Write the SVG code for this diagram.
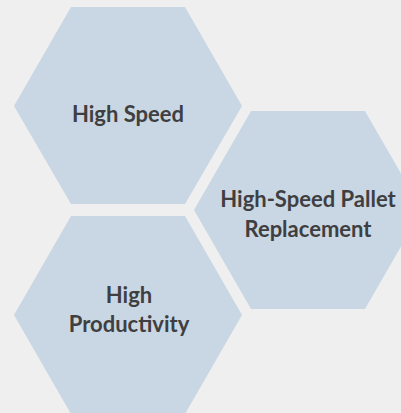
<svg xmlns="http://www.w3.org/2000/svg" width="401" height="413" viewBox="0 0 401 413">
<style>
.hex{fill:#c9d7e4}
.t{font-family:"Lato","Open Sans","Liberation Sans",sans-serif;font-weight:700;font-size:22px;fill:#3f3f41;text-anchor:middle}
</style>
<rect width="401" height="413" fill="#efefef"/>
<g id="node-high-speed">
<polygon class="hex" points="71,7 185,7 242,106 185,204 71,204 14,106"/>
<text class="t" x="128" y="122">High Speed</text>
</g>
<g id="node-pallet">
<polygon class="hex" points="251,111 365,111 422,210 365,309 251,309 194,210"/>
<text class="t" x="308" y="207">High-Speed Pallet</text>
<text class="t" x="308" y="237">Replacement</text>
</g>
<g id="node-productivity">
<polygon class="hex" points="71,216 185,216 242,315 185,414 71,414 14,315"/>
<text class="t" x="129" y="303">High</text>
<text class="t" x="129" y="332">Productivity</text>
</g>
<g id="connectors"/>
</svg>
